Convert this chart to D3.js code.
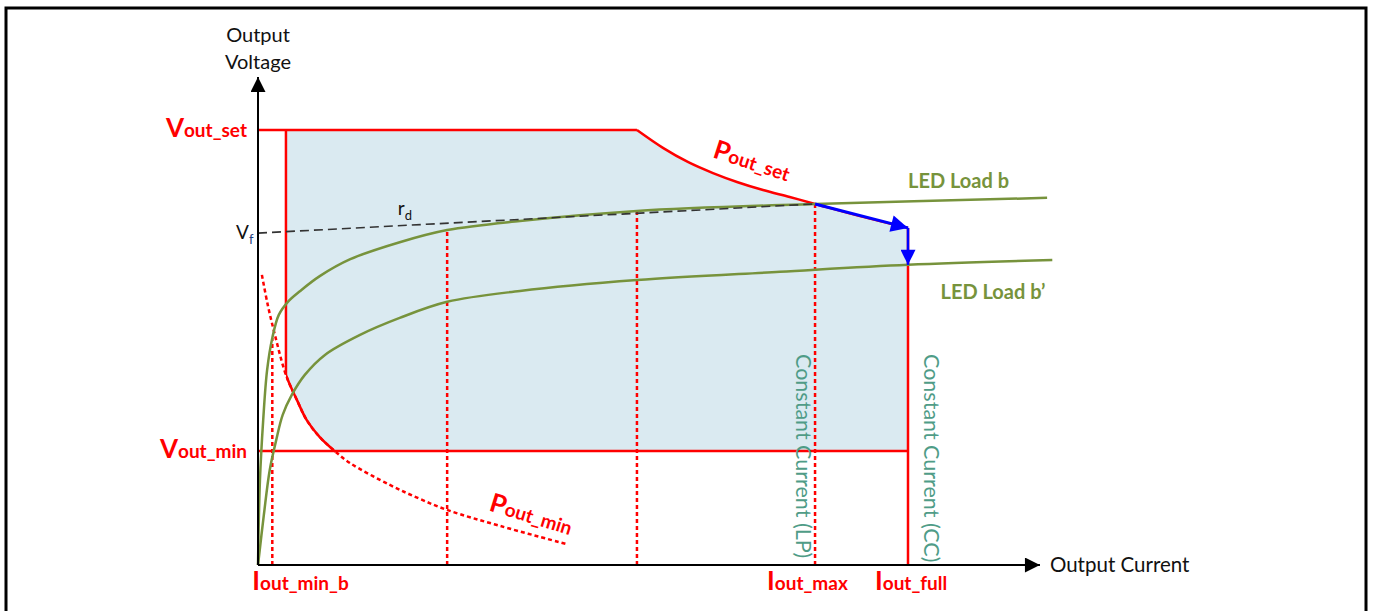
<!DOCTYPE html>
<html lang="en">
<head>
    <meta charset="UTF-8">
    <title>LED Driver Operating Area</title>
    <script src="https://d3js.org/d3.v7.min.js"></script>
    <style>
        body { margin: 0; background: #fff; }
        svg { display: block; font-family: Lato, "Open Sans", sans-serif; }
        .red-solid { fill: none; stroke: #ff0000; stroke-width: 2.5; }
        .red-dot { fill: none; stroke: #ff0000; stroke-width: 2.5; stroke-dasharray: 4,3; }
        .led { fill: none; stroke: #77933c; stroke-width: 2.5; }
        .axis-line { stroke: #000; stroke-width: 2; }
        .lbl-red { fill: #ff0000; font-weight: bold; }
    </style>
</head>
<body>
<svg id="chart" width="1373" height="611"></svg>
<script>
// ---- data (current in % of Iout_full, voltage in % of Vout_set) ----
const ledLoadB = [
    [0, 0], [0.3, 19.5], [0.8, 33.3], [1.4, 44.8], [2.2, 52.2], [3.2, 57.5], [4.6, 60.5],
    [6.5, 63.0], [9.5, 66.4], [14.2, 70.3], [21.8, 74.2], [29.1, 77.0], [40.3, 79.1],
    [58.3, 81.4], [85.7, 83.0], [121.4, 84.4]
];
const ledLoadB2 = [
    [0, 0], [0.9, 11.5], [1.8, 21.8], [2.8, 28.7], [3.8, 34.5], [5.2, 39.1], [7.2, 43.7],
    [10.3, 48.3], [15.7, 52.9], [21.8, 56.8], [29.1, 60.5], [40.3, 63.0], [58.3, 65.5],
    [80.3, 67.4], [100, 69.0], [122.2, 70.1]
];
const poutSet = [
    [58.3, 100], [62.3, 95.9], [66.2, 92.6], [70.0, 90.1], [73.8, 88.0], [77.7, 86.2],
    [81.8, 84.6], [85.7, 83.0], [92.6, 80.2], [100, 77.5]
];
const poutMin = [
    [0.6, 66.7], [1.5, 59.8], [2.6, 52.9], [4.3, 43.7], [6.0, 37.9], [7.5, 33.3], [9.5, 29.4],
    [11.8, 26.2], [14.2, 23.4], [20.3, 18.4], [24.9, 15.2], [29.2, 12.6], [37.2, 9.0], [47.5, 4.8]
];
const voutSet = 100;
const voutMin = 26.2;
const vf = 76.3;
const iLeft = 4.3;       // left edge of the regulated area
const iPminCross = 11.8; // Pout_min meets Vout_min
const iMinB = 2.2;
const iMid1 = 29.1;
const iMid2 = 58.3;
const iMax = 85.7;
const iFull = 100;
const xAxisMax = 120.3;
const yAxisMax = 112.2;
const dottedDrops = [[iMinB, 52.2], [iMid1, 77.0], [iMid2, 81.4], [iMax, 83.0]];
const vLabels = [["V", "out_set", voutSet], ["V", "out_min", voutMin]];
const iLabels = [["I", "out_min_b", iMinB, -20], ["I", "out_max", iMax, -48], ["I", "out_full", iFull, -33]];

const svg = d3.select("#chart");
const x = d3.scaleLinear().domain([0, 100]).range([258, 908]);
const y = d3.scaleLinear().domain([0, 100]).range([565, 130]);

// frame
svg.append("rect").attr("x", 6).attr("y", 8).attr("width", 1360).attr("height", 640)
    .attr("fill", "none").attr("stroke", "#000").attr("stroke-width", 3);

const defs = svg.append("defs");
function marker(id, color, w, h) {
    defs.append("marker").attr("id", id).attr("viewBox", "0 0 10 10")
        .attr("refX", 10).attr("refY", 5)
        .attr("markerUnits", "userSpaceOnUse")
        .attr("markerWidth", w).attr("markerHeight", h)
        .attr("orient", "auto")
        .append("path").attr("d", "M0,0 L10,5 L0,10 Z").attr("fill", color);
}
marker("axisArrow", "#000", 20, 15);
marker("blueArrow", "#0000ff", 26, 17);
marker("blueArrowS", "#0000ff", 20, 15);

defs.append("clipPath").attr("id", "pminClip").append("rect")
    .attr("x", x(iLeft)).attr("y", 0)
    .attr("width", x(iPminCross) - x(iLeft)).attr("height", 611);

const line = d3.line().x(d => x(d[0])).y(d => y(d[1]));
const curve = d3.line().x(d => x(d[0])).y(d => y(d[1])).curve(d3.curveCatmullRom.alpha(0.5));

// shaded regulation area
const pminSolid = poutMin.filter(d => d[0] >= iLeft && d[0] <= iPminCross);
const area = [[iLeft, voutSet]]
    .concat(poutSet)
    .concat([[iFull, voutMin], [iPminCross, voutMin]])
    .concat(pminSolid.slice().reverse());
svg.append("path").attr("d", line(area) + "Z").attr("fill", "#daeaf1");

// dotted drop lines
dottedDrops.forEach(d => {
    svg.append("path").attr("class", "red-dot").attr("d", line([[d[0], 0], [d[0], d[1]]]));
});

// Pout_min (dotted whole, solid on the boundary)
svg.append("path").attr("class", "red-dot").attr("d", curve(poutMin));
svg.append("path").attr("class", "red-solid").attr("d", curve(poutMin))
    .attr("clip-path", "url(#pminClip)");

// boundary lines
svg.append("path").attr("class", "red-solid").attr("d", line([[0, voutSet], [poutSet[0][0], voutSet]]));
svg.append("path").attr("class", "red-solid").attr("d", curve(poutSet));
svg.append("path").attr("class", "red-solid").attr("d", line([[iLeft, voutSet], [iLeft, pminSolid[0][1]]]));
svg.append("path").attr("class", "red-solid").attr("d", line([[0, voutMin], [iFull, voutMin]]));
svg.append("path").attr("class", "red-solid").attr("d", line([[iFull, poutSet[poutSet.length - 1][1]], [iFull, 0]]));

// LED loads
svg.append("path").attr("class", "led").attr("d", curve(ledLoadB));
svg.append("path").attr("class", "led").attr("d", curve(ledLoadB2));

// r_d dashed line
svg.append("path").attr("d", line([[0, vf], [iMax, 83.0]]))
    .attr("stroke", "#333").attr("stroke-width", 1.6).attr("stroke-dasharray", "9,5").attr("fill", "none");

// blue arrows
svg.append("path").attr("d", line([[iMax, 83.0], [iFull, 77.5]]))
    .attr("stroke", "#0000ff").attr("stroke-width", 3).attr("fill", "none")
    .attr("marker-end", "url(#blueArrow)");
svg.append("path").attr("d", line([[iFull, 77.5], [iFull, 69.0]]))
    .attr("stroke", "#0000ff").attr("stroke-width", 2.5).attr("fill", "none")
    .attr("marker-end", "url(#blueArrowS)");

// axes
svg.append("path").attr("class", "axis-line").attr("d", line([[0, 0], [xAxisMax, 0]]))
    .attr("marker-end", "url(#axisArrow)");
svg.append("path").attr("class", "axis-line").attr("d", line([[0, 0], [0, yAxisMax]]))
    .attr("marker-end", "url(#axisArrow)");

// axis titles
const yt = svg.append("text").attr("text-anchor", "middle").attr("font-size", 20).attr("fill", "#111");
yt.append("tspan").attr("x", x(0)).attr("y", 42).text("Output");
yt.append("tspan").attr("x", x(0)).attr("y", 69).text("Voltage");
svg.append("text").attr("x", x(xAxisMax) + 10).attr("y", y(0) + 7)
    .attr("font-size", 20.5).attr("fill", "#111").text("Output Current");

// voltage labels
vLabels.forEach(d => {
    const t = svg.append("text").attr("class", "lbl-red").attr("text-anchor", "end")
        .attr("x", x(0) - 11).attr("y", y(d[2]) + 7);
    t.append("tspan").attr("font-size", 26).text(d[0]);
    t.append("tspan").attr("font-size", 19).text(d[1]);
});

// current labels
iLabels.forEach(d => {
    const t = svg.append("text").attr("class", "lbl-red")
        .attr("x", x(d[2]) + d[3]).attr("y", y(0) + 25);
    t.append("tspan").attr("font-size", 26).text(d[0]);
    t.append("tspan").attr("font-size", 19).text(d[1]);
});

// power labels
function powerLabel(sub, px, py, ang) {
    const t = svg.append("text").attr("class", "lbl-red")
        .attr("transform", `translate(${px},${py}) rotate(${ang})`);
    t.append("tspan").attr("font-size", 26).text("P");
    t.append("tspan").attr("font-size", 19).text(sub);
}
powerLabel("out_set", x(69.8), y(93.8), 18);
powerLabel("out_min", x(35.4), y(12.6), 17);

// LED load labels
svg.append("text").attr("x", x(100)).attr("y", y(86.6)).attr("font-size", 20)
    .attr("font-weight", "bold").attr("fill", "#77933c").text("LED Load b");
svg.append("text").attr("x", x(105)).attr("y", y(61.2)).attr("font-size", 20)
    .attr("font-weight", "bold").attr("fill", "#77933c").text("LED Load b\u2019");

// constant current labels
[["Constant Current (LP)", iMax, -19], ["Constant Current (CC)", iFull, 16]].forEach(d => {
    svg.append("text")
        .attr("transform", `translate(${x(d[1]) + d[2]},${y(48.5)}) rotate(90)`)
        .attr("font-size", 21.5).attr("fill", "#4f9c87").text(d[0]);
});

// r_d and V_f
const rd = svg.append("text").attr("x", x(21.5)).attr("y", y(80.5)).attr("font-size", 19).attr("fill", "#111");
rd.append("tspan").text("r");
rd.append("tspan").attr("font-size", 13).attr("dy", 5).text("d");
const vfl = svg.append("text").attr("x", x(0) - 22).attr("y", y(vf) + 6).attr("font-size", 19).attr("fill", "#111");
vfl.append("tspan").text("V");
vfl.append("tspan").attr("font-size", 13).attr("dy", 5).attr("fill", "#1f3f7f").text("f");
</script>
</body>
</html>
